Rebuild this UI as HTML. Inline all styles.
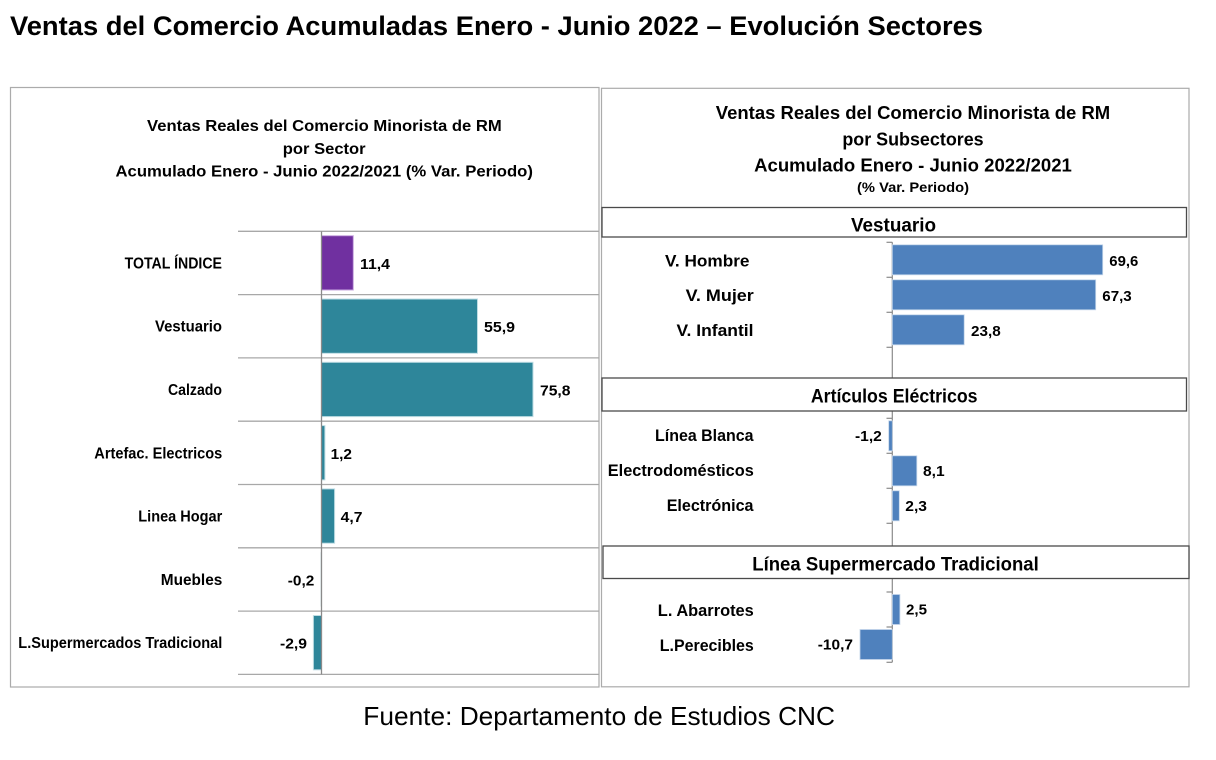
<!DOCTYPE html>
<html>
<head>
<meta charset="utf-8">
<style>
  html,body{margin:0;padding:0;background:#fff;}
  svg{display:block;}
  text{font-family:"Liberation Sans",sans-serif;fill:#000;}
  .b{font-weight:bold;}
</style>
</head>
<body>
<svg width="1216" height="760" viewBox="0 0 1216 760" xmlns="http://www.w3.org/2000/svg">
  <rect x="0" y="0" width="1216" height="760" fill="#fff"/>

  <!-- Main title -->
  <text class="b" x="10" y="35" font-size="27" textLength="973" lengthAdjust="spacingAndGlyphs">Ventas del Comercio Acumuladas Enero - Junio 2022 – Evolución Sectores</text>

  <!-- Panels -->
  <rect x="10.5" y="87.5" width="588.5" height="599.5" fill="none" stroke="#ababab" stroke-width="1.2"/>
  <rect x="601.5" y="88.3" width="587.5" height="598.5" fill="none" stroke="#ababab" stroke-width="1.2"/>

  <!-- LEFT CHART -->
  <text class="b" x="324.4" y="131" font-size="16" text-anchor="middle" textLength="354.7" lengthAdjust="spacingAndGlyphs">Ventas Reales del Comercio Minorista de RM</text>
  <text class="b" x="324.2" y="154" font-size="16" text-anchor="middle" textLength="82.8" lengthAdjust="spacingAndGlyphs">por Sector</text>
  <text class="b" x="324.2" y="176.5" font-size="16" text-anchor="middle" textLength="417.4" lengthAdjust="spacingAndGlyphs">Acumulado Enero - Junio 2022/2021 (% Var. Periodo)</text>

  <!-- gridlines -->
  <g stroke="#a8a8a8" stroke-width="1.3">
    <line x1="238" y1="231.3" x2="599" y2="231.3"/>
    <line x1="238" y1="294.6" x2="599" y2="294.6"/>
    <line x1="238" y1="357.9" x2="599" y2="357.9"/>
    <line x1="238" y1="421.2" x2="599" y2="421.2"/>
    <line x1="238" y1="484.5" x2="599" y2="484.5"/>
    <line x1="238" y1="547.8" x2="599" y2="547.8"/>
    <line x1="238" y1="611.1" x2="599" y2="611.1"/>
    <line x1="238" y1="674.4" x2="599" y2="674.4"/>
  </g>

  <!-- bars -->
  <g stroke-width="1">
    <rect x="321.5" y="235.7" width="31.8" height="54.3" fill="#7030A0" stroke="#c9a9df"/>
    <rect x="321.5" y="299" width="156" height="54.3" fill="#2E869A" stroke="#bfdde4"/>
    <rect x="321.5" y="362.3" width="211.5" height="54.3" fill="#2E869A" stroke="#bfdde4"/>
    <rect x="321.5" y="425.6" width="3.4" height="54.3" fill="#2E869A" stroke="#bfdde4"/>
    <rect x="321.5" y="488.9" width="13.1" height="54.3" fill="#2E869A" stroke="#bfdde4"/>
    <rect x="320.9" y="552.2" width="0.6" height="54.3" fill="#2E869A"/>
    <rect x="313.4" y="615.5" width="8.1" height="54.3" fill="#2E869A" stroke="#bfdde4"/>
  </g>

  <!-- axis -->
  <line x1="321.5" y1="231.3" x2="321.5" y2="674.4" stroke="#8a8a8a" stroke-width="1.3"/>

  <!-- category labels -->
  <g class="b" font-size="15.5" text-anchor="end">
    <text class="b" x="222" y="268.3" textLength="97.4" lengthAdjust="spacingAndGlyphs">TOTAL ÍNDICE</text>
    <text class="b" x="222" y="331.6" textLength="67" lengthAdjust="spacingAndGlyphs">Vestuario</text>
    <text class="b" x="222" y="394.9" textLength="54" lengthAdjust="spacingAndGlyphs">Calzado</text>
    <text class="b" x="222.3" y="458.3" textLength="128" lengthAdjust="spacingAndGlyphs">Artefac. Electricos</text>
    <text class="b" x="222.3" y="521.6" textLength="84" lengthAdjust="spacingAndGlyphs">Linea Hogar</text>
    <text class="b" x="222.3" y="584.9" textLength="61.5" lengthAdjust="spacingAndGlyphs">Muebles</text>
    <text class="b" x="222.3" y="648.2" textLength="204" lengthAdjust="spacingAndGlyphs">L.Supermercados Tradicional</text>
  </g>

  <!-- value labels -->
  <g font-size="15">
    <text class="b" x="360" y="268.8" textLength="30" lengthAdjust="spacingAndGlyphs">11,4</text>
    <text class="b" x="484" y="332.1" textLength="31" lengthAdjust="spacingAndGlyphs">55,9</text>
    <text class="b" x="540" y="395.4" textLength="30.5" lengthAdjust="spacingAndGlyphs">75,8</text>
    <text class="b" x="330.6" y="458.8" textLength="21.4" lengthAdjust="spacingAndGlyphs">1,2</text>
    <text class="b" x="340.7" y="522.1" textLength="21.8" lengthAdjust="spacingAndGlyphs">4,7</text>
    <text class="b" x="287.8" y="585.4" textLength="26.5" lengthAdjust="spacingAndGlyphs">-0,2</text>
    <text class="b" x="280" y="648.7" textLength="27" lengthAdjust="spacingAndGlyphs">-2,9</text>
  </g>

  <!-- RIGHT CHART -->
  <text class="b" x="913" y="119" font-size="18" text-anchor="middle" textLength="394.4" lengthAdjust="spacingAndGlyphs">Ventas Reales del Comercio Minorista de RM</text>
  <text class="b" x="913" y="145.5" font-size="18" text-anchor="middle" textLength="141.3" lengthAdjust="spacingAndGlyphs">por Subsectores</text>
  <text class="b" x="913" y="171.5" font-size="18" text-anchor="middle" textLength="317.8" lengthAdjust="spacingAndGlyphs">Acumulado Enero - Junio 2022/2021</text>
  <text class="b" x="913" y="192" font-size="14" text-anchor="middle" textLength="112" lengthAdjust="spacingAndGlyphs">(% Var. Periodo)</text>

  <!-- axis + ticks -->
  <line x1="892.3" y1="242.3" x2="892.3" y2="662.3" stroke="#8a8a8a" stroke-width="1.2"/>
  <g stroke="#8a8a8a" stroke-width="1.2">
    <line x1="886.5" y1="242.3" x2="892.3" y2="242.3"/>
    <line x1="886.5" y1="277.3" x2="892.3" y2="277.3"/>
    <line x1="886.5" y1="312.3" x2="892.3" y2="312.3"/>
    <line x1="886.5" y1="347.3" x2="892.3" y2="347.3"/>
    <line x1="886.5" y1="418.3" x2="892.3" y2="418.3"/>
    <line x1="886.5" y1="453.3" x2="892.3" y2="453.3"/>
    <line x1="886.5" y1="488.3" x2="892.3" y2="488.3"/>
    <line x1="886.5" y1="523.3" x2="892.3" y2="523.3"/>
    <line x1="886.5" y1="592" x2="892.3" y2="592"/>
    <line x1="886.5" y1="627" x2="892.3" y2="627"/>
    <line x1="886.5" y1="662.3" x2="892.3" y2="662.3"/>
  </g>

  <!-- section boxes -->
  <rect x="602" y="207.5" width="584.5" height="29.5" fill="#fff" stroke="#4a4a4a" stroke-width="1.3"/>
  <rect x="602" y="378" width="584.5" height="33" fill="#fff" stroke="#4a4a4a" stroke-width="1.3"/>
  <rect x="603" y="546" width="586" height="32.5" fill="#fff" stroke="#4a4a4a" stroke-width="1.3"/>

  <text class="b" x="893.5" y="231.5" font-size="19" text-anchor="middle" textLength="85" lengthAdjust="spacingAndGlyphs">Vestuario</text>
  <text class="b" x="894.2" y="402.5" font-size="19" text-anchor="middle" textLength="166.7" lengthAdjust="spacingAndGlyphs">Artículos Eléctricos</text>
  <text class="b" x="895.5" y="570.5" font-size="19" text-anchor="middle" textLength="286.5" lengthAdjust="spacingAndGlyphs">Línea  Supermercado Tradicional</text>

  <!-- bars -->
  <g fill="#4F81BD" stroke="#c3d5ea" stroke-width="0.8">
    <rect x="892.3" y="244.8" width="210.4" height="30"/>
    <rect x="892.3" y="279.8" width="203.4" height="30"/>
    <rect x="892.3" y="314.8" width="71.9" height="30"/>
    <rect x="888.7" y="420.8" width="3.6" height="30"/>
    <rect x="892.3" y="455.8" width="24.5" height="30"/>
    <rect x="892.3" y="490.8" width="7" height="30"/>
    <rect x="892.3" y="594.5" width="7.6" height="30"/>
    <rect x="860" y="629.5" width="32.3" height="30"/>
  </g>

  <!-- category labels -->
  <g font-size="16.5" text-anchor="end">
    <text class="b" x="749.5" y="266.3" textLength="84.5" lengthAdjust="spacingAndGlyphs">V. Hombre</text>
    <text class="b" x="753.8" y="301.2" textLength="68.2" lengthAdjust="spacingAndGlyphs">V. Mujer</text>
    <text class="b" x="753.5" y="336.2" textLength="77" lengthAdjust="spacingAndGlyphs">V. Infantil</text>
    <text class="b" x="753.5" y="441" textLength="98.5" lengthAdjust="spacingAndGlyphs">Línea Blanca</text>
    <text class="b" x="753.8" y="475.8" textLength="146" lengthAdjust="spacingAndGlyphs">Electrodomésticos</text>
    <text class="b" x="753.5" y="510.8" textLength="86.8" lengthAdjust="spacingAndGlyphs">Electrónica</text>
    <text class="b" x="753.8" y="616" textLength="96" lengthAdjust="spacingAndGlyphs">L. Abarrotes</text>
    <text class="b" x="753.8" y="651" textLength="94" lengthAdjust="spacingAndGlyphs">L.Perecibles</text>
  </g>

  <!-- value labels -->
  <g font-size="14.5">
    <text class="b" x="1109.3" y="265.8" textLength="29" lengthAdjust="spacingAndGlyphs">69,6</text>
    <text class="b" x="1102.3" y="300.8" textLength="29.4" lengthAdjust="spacingAndGlyphs">67,3</text>
    <text class="b" x="971" y="335.8" textLength="29.7" lengthAdjust="spacingAndGlyphs">23,8</text>
    <text class="b" x="855" y="440.8" textLength="26.8" lengthAdjust="spacingAndGlyphs">-1,2</text>
    <text class="b" x="923" y="475.8" textLength="21.6" lengthAdjust="spacingAndGlyphs">8,1</text>
    <text class="b" x="905.3" y="510.8" textLength="21.7" lengthAdjust="spacingAndGlyphs">2,3</text>
    <text class="b" x="906" y="614.5" textLength="21" lengthAdjust="spacingAndGlyphs">2,5</text>
    <text class="b" x="817.8" y="649.5" textLength="35.2" lengthAdjust="spacingAndGlyphs">-10,7</text>
  </g>

  <!-- Source -->
  <text x="363.3" y="725" font-size="26" textLength="471.7" lengthAdjust="spacingAndGlyphs">Fuente: Departamento de Estudios CNC</text>
</svg>
</body>
</html>
